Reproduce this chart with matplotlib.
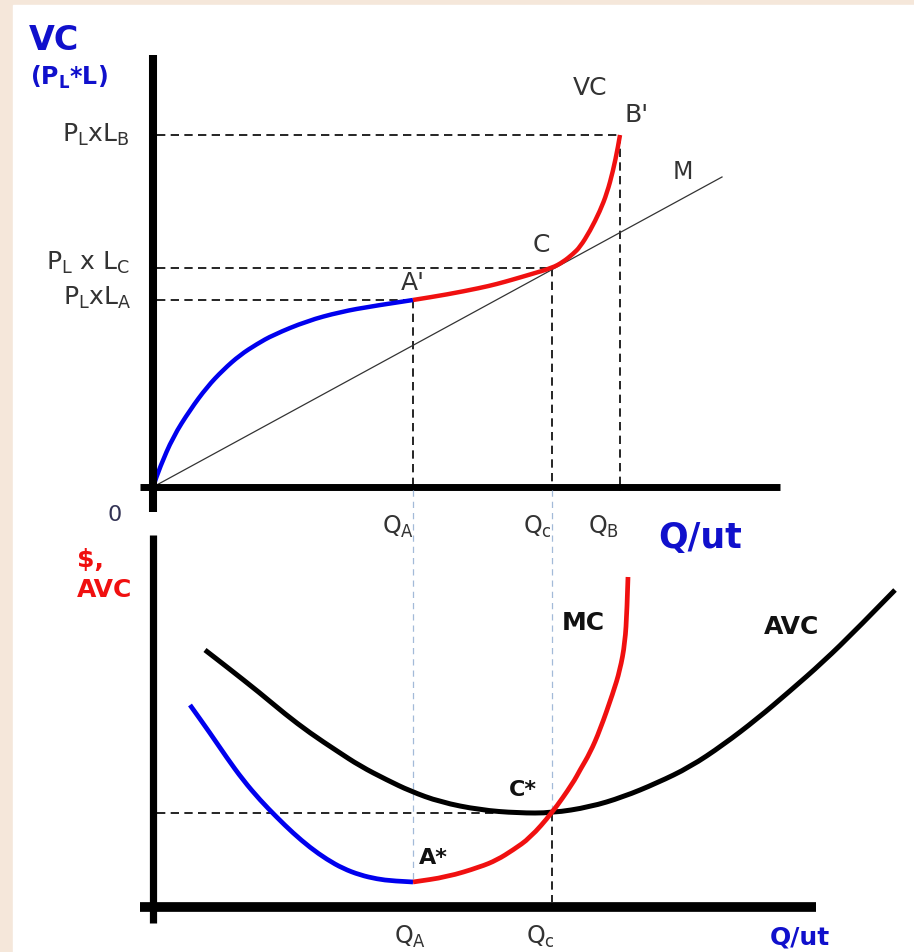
import matplotlib
matplotlib.use("Agg")
import matplotlib.pyplot as plt
from matplotlib.patches import Rectangle, PathPatch
from matplotlib.path import Path

plt.rcParams['font.family'] = ['DejaVu Sans']

# ---------------- data ----------------
# Top panel: variable cost VC vs Q
q_vc_blue = [0, 0.7, 2.0, 3.7, 5.4, 7.0, 8.7, 10.4, 12.0, 15.4, 18.7, 22.0, 26.0]
vc_blue = [0, 2.0, 5.0, 7.7, 10.0, 11.7, 13.2, 14.3, 15.2, 16.6, 17.5, 18.1, 18.7]
q_vc_red = [26.0, 29.4, 32.7, 34.4, 36.0, 37.7, 39.9, 41.0, 42.0, 42.7, 43.7, 44.7, 45.4, 46.0, 46.5, 46.7]
vc_red = [18.7, 19.25, 19.9, 20.3, 20.75, 21.25, 21.9, 22.5, 23.3, 24.0, 25.6, 27.6, 29.4, 31.6, 34.0, 35.2]
m_q = [0, 56.9]
m_vc = [0, 31.0]

Q_A, Q_C, Q_B = 26.0, 39.9, 46.7
VC_A, VC_C, VC_B = 18.7, 21.9, 35.2

# Bottom panel: MC and AVC vs Q
q_mc_blue = [3.7, 5.7, 7.4, 9.0, 10.7, 12.4, 14.0, 15.7, 17.4, 19.0, 20.7, 22.4, 24.0, 26.0]
mc_blue = [20.2, 17.4, 14.9, 12.7, 10.7, 8.95, 7.4, 5.95, 4.75, 3.85, 3.2, 2.8, 2.6, 2.5]
q_mc_red = [26.0, 29.4, 32.7, 34.4, 36.0, 37.7, 39.9, 42.0, 42.7, 43.7, 44.7, 46.0, 46.7, 47.2, 47.4, 47.5]
mc_red = [2.5, 3.0, 4.0, 4.7, 5.7, 6.9, 9.4, 12.4, 13.7, 15.4, 17.7, 21.4, 23.7, 26.4, 29.7, 33.0]
q_avc = [5.2, 7.4, 10.7, 13.2, 15.7, 18.4, 20.7, 23.4, 25.7, 28.7, 32.7, 36.5, 39.9, 43.7,
         47.0, 50.4, 53.7, 57.0, 60.4, 63.7, 67.0, 70.4, 74.2]
avc = [25.7, 24.0, 21.4, 19.3, 17.4, 15.6, 14.1, 12.7, 11.6, 10.5, 9.7, 9.4, 9.4, 10.0,
       11.0, 12.4, 14.0, 16.2, 18.8, 21.6, 24.5, 27.8, 31.7]
MC_A = 2.5
AVC_C = 9.4

# tick labels
top_ylabels = ["P$_\\mathregular{L}$xL$_\\mathregular{B}$",
               "P$_\\mathregular{L}$ x L$_\\mathregular{C}$",
               "P$_\\mathregular{L}$xL$_\\mathregular{A}$"]
top_xlabels = ["Q$_\\mathregular{A}$", "Q$_\\mathregular{c}$", "Q$_\\mathregular{B}$"]
bot_xlabels = ["Q$_\\mathregular{A}$", "Q$_\\mathregular{c}$"]

# ---------------- styles ----------------
BLUE = '#0000EE'
RED = '#F01010'
TXT = '#333333'
LBLUE = '#A3BAD8'
dash = (0, (5, 3.2))


def smooth_curve(ax, xs, ys, color, lw, zorder):
    """Draw a smooth curve through the data points via a quadratic-Bezier path."""
    pts = list(zip(xs, ys))
    verts = [pts[0]]
    codes = [Path.MOVETO]
    if len(pts) > 2:
        mid = ((pts[0][0] + pts[1][0]) / 2, (pts[0][1] + pts[1][1]) / 2)
        verts.append(mid)
        codes.append(Path.LINETO)
        for i in range(1, len(pts) - 1):
            mid = ((pts[i][0] + pts[i + 1][0]) / 2, (pts[i][1] + pts[i + 1][1]) / 2)
            if i == len(pts) - 2:
                mid = pts[-1]
            verts += [pts[i], mid]
            codes += [Path.CURVE3, Path.CURVE3]
    else:
        verts.append(pts[-1])
        codes.append(Path.LINETO)
    patch = PathPatch(Path(verts, codes), fill=False, edgecolor=color, lw=lw,
                      capstyle='butt', joinstyle='round', zorder=zorder)
    ax.add_patch(patch)


fig = plt.figure(figsize=(9.14, 9.52), dpi=100)
fig.patch.set_facecolor('#F5E7DA')
fig.add_artist(Rectangle((13 / 914, 0), 1 - 13 / 914, 1 - 5 / 952,
                         transform=fig.transFigure, color='white', zorder=0))

# top axes: 1 unit = 10 px, origin at pixel (153, 487)
ax1 = fig.add_axes([0, 0, 1, 1])
ax1.set_xlim(-15.3, 76.1)
ax1.set_ylim(-46.5, 48.7)
ax1.axis('off')
ax1.patch.set_alpha(0)

# bottom axes: origin at pixel (153, 907)
ax2 = fig.add_axes([0, 0, 1, 1])
ax2.set_xlim(-15.3, 76.1)
ax2.set_ylim(-4.5, 90.7)
ax2.axis('off')
ax2.patch.set_alpha(0)

# ---- top panel ----
ax1.plot([0, 0], [-2.5, 43.2], color='black', lw=5.8, solid_capstyle='butt', zorder=5)
ax1.plot([-1.3, 62.7], [0, 0], color='black', lw=5.0, solid_capstyle='butt', zorder=5)

for qv, vv in [(Q_B, VC_B), (Q_C, VC_C), (Q_A, VC_A)]:
    ax1.plot([0.4, qv], [vv, vv], color='black', lw=1.2, linestyle=dash, zorder=2)
    ax1.plot([qv, qv], [vv, -0.4], color='black', lw=1.2, linestyle=dash, zorder=2)

ax1.plot(m_q, m_vc, color='#333333', lw=0.9, zorder=3)
smooth_curve(ax1, q_vc_blue, vc_blue, BLUE, 3.2, 4)
smooth_curve(ax1, q_vc_red, vc_red, RED, 3.2, 4)

ax1.text(-9.9, 44.7, "VC", color='#1010CC', fontsize=24, fontweight='bold', ha='center', va='center')
ax1.text(-8.4, 41.0, "(P$_\\mathbf{L}$*L)", color='#1010CC', fontsize=17, fontweight='bold',
         ha='center', va='center')
ax1.text(-2.3, VC_B, top_ylabels[0], color=TXT, fontsize=18, ha='right', va='center')
ax1.text(-2.3, VC_C + 0.5, top_ylabels[1], color=TXT, fontsize=18, ha='right', va='center')
ax1.text(-2.1, VC_A + 0.2, top_ylabels[2], color=TXT, fontsize=18, ha='right', va='center')
ax1.text(-3.8, -2.8, "0", color='#333355', fontsize=16, ha='center', va='center')

ax1.text(43.7, 39.9, "VC", color=TXT, fontsize=18, ha='center', va='center')
ax1.text(48.4, 37.2, "B'", color=TXT, fontsize=18, ha='center', va='center')
ax1.text(53.0, 31.5, "M", color=TXT, fontsize=17, ha='center', va='center')
ax1.text(38.8, 24.2, "C", color=TXT, fontsize=18, ha='center', va='center')
ax1.text(26.0, 20.4, "A'", color=TXT, fontsize=18, ha='center', va='center')

for qv, lab in zip([Q_A - 1.5, Q_C - 1.5, Q_B - 1.7], top_xlabels):
    ax1.text(qv, -4.0, lab, color=TXT, fontsize=17, ha='center', va='center')
ax1.text(54.7, -5.1, "Q/ut", color='#1010CC', fontsize=25, fontweight='bold', ha='center', va='center')

# ---- bottom panel ----
ax2.plot([0, 0], [-1.6, 37.2], color='black', lw=5.2, solid_capstyle='butt', zorder=5)
ax2.plot([-1.3, 66.3], [0, 0], color='black', lw=7.0, solid_capstyle='butt', zorder=5)

ax2.plot([Q_A, Q_A], [41.7, MC_A], color=LBLUE, lw=0.9, linestyle=(0, (5, 4)), zorder=2)
ax2.plot([Q_C, Q_C], [41.7, AVC_C], color=LBLUE, lw=0.9, linestyle=(0, (5, 4)), zorder=2)
ax2.plot([Q_C, Q_C], [AVC_C, 0.5], color='black', lw=1.2, linestyle=dash, zorder=2)
ax2.plot([0.4, Q_C], [AVC_C, AVC_C], color='black', lw=1.2, linestyle=dash, zorder=2)

smooth_curve(ax2, q_avc, avc, 'black', 3.6, 3)
smooth_curve(ax2, q_mc_blue, mc_blue, BLUE, 3.4, 4)
smooth_curve(ax2, q_mc_red, mc_red, RED, 3.4, 4)

ax2.text(-7.6, 34.7, "$,", color=RED, fontsize=18, fontweight='bold', ha='left', va='center')
ax2.text(-7.6, 31.7, "AVC", color=RED, fontsize=18, fontweight='bold', ha='left', va='center')
ax2.text(43.0, 28.4, "MC", color='#111111', fontsize=18, fontweight='bold', ha='center', va='center')
ax2.text(63.9, 28.0, "AVC", color='#111111', fontsize=18, fontweight='bold', ha='center', va='center')
ax2.text(37.0, 11.7, "C*", color='#111111', fontsize=16, fontweight='bold', ha='center', va='center')
ax2.text(28.0, 4.9, "A*", color='#111111', fontsize=16, fontweight='bold', ha='center', va='center')

for qv, lab in zip([Q_A - 0.3, Q_C - 1.2], bot_xlabels):
    ax2.text(qv, -3.0, lab, color=TXT, fontsize=17, ha='center', va='center')
ax2.text(64.7, -3.0, "Q/ut", color='#1010CC', fontsize=18, fontweight='bold', ha='center', va='center')

fig.savefig("out.png", dpi=100, facecolor=fig.get_facecolor())
